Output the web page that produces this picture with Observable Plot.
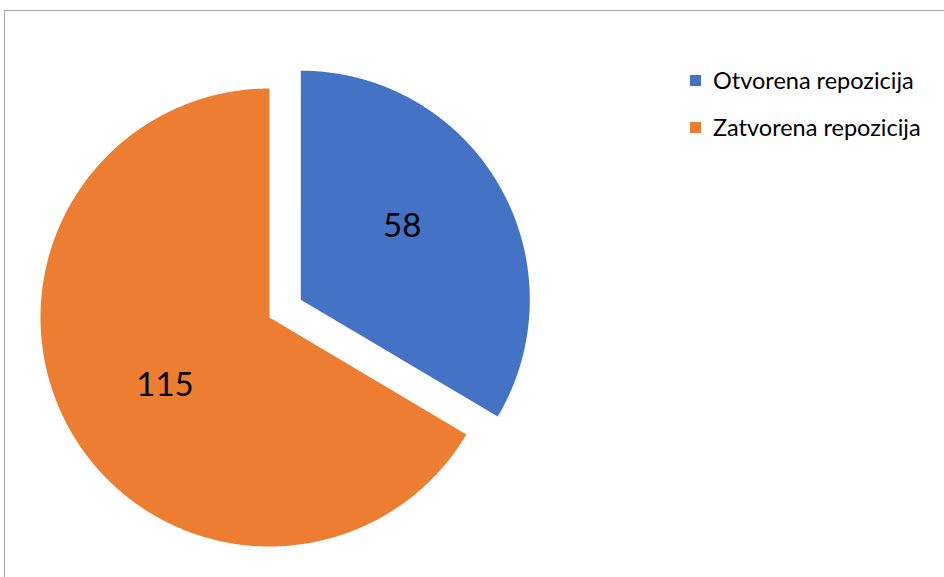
<!DOCTYPE html>
<html>
<head>
<meta charset="utf-8">
<script src="https://cdn.jsdelivr.net/npm/d3@7"></script>
<script src="https://cdn.jsdelivr.net/npm/@observablehq/plot@0.6"></script>
<style>
  html, body { margin: 0; padding: 0; background: #fff; overflow: hidden; }
  #wrap { position: relative; width: 944px; height: 577px; }
  #frame { position: absolute; left: 4px; top: 10px; width: 960px; height: 600px; border: 1px solid #a6a6a6; box-sizing: border-box; }
  #chart { position: absolute; left: 0; top: 0; }
  #legend { position: absolute; left: 690px; top: 66px; font-family: Lato, "Open Sans", sans-serif; font-size: 23.5px; color: #000; }
  .item { display: flex; align-items: center; height: 28px; margin-bottom: 19px; }
  .sw { width: 11px; height: 11px; margin-right: 12px; }
</style>
</head>
<body>
<div id="wrap">
  <div id="frame"></div>
  <div id="chart"></div>
  <div id="legend"></div>
</div>
<script>
// ---- data ----
const categories = ["Otvorena repozicija", "Zatvorena repozicija"];
const values = [58, 115];
const colors = ["#4472C4", "#ED7D31"];

// ---- layout ----
const W = 944, H = 577;
const cx = 269, cy = 317, R = 229;   // pie centre / radius in pixels
const explodePx = [36, 0];           // explosion of each slice
const labelRadius = 0.55;
const labelNudge = [[-8, -11], [5, 6]];

const pie = d3.pie().sort(null).value(d => d.value)(
  categories.map((c, i) => ({category: c, value: values[i], i}))
);

// polygon points in unit coordinates (radius 1, y pointing down)
const pts = [];
const labels = [];
for (const s of pie) {
  const i = s.data.i;
  const mid = (s.startAngle + s.endAngle) / 2;
  const e = explodePx[i] / R;
  const ox = Math.sin(mid) * e, oy = -Math.cos(mid) * e;
  pts.push({category: s.data.category, x: ox, y: oy});
  const n = Math.max(2, Math.ceil((s.endAngle - s.startAngle) / (Math.PI / 360)));
  for (let k = 0; k <= n; k++) {
    const a = s.startAngle + (s.endAngle - s.startAngle) * k / n;
    pts.push({category: s.data.category, x: ox + Math.sin(a), y: oy - Math.cos(a)});
  }
  labels.push({
    text: String(s.data.value),
    x: ox + Math.sin(mid) * labelRadius + labelNudge[i][0] / R,
    y: oy - Math.cos(mid) * labelRadius + labelNudge[i][1] / R
  });
}

const chart = Plot.plot({
  width: W, height: H,
  margin: 0,
  style: {background: "transparent", overflow: "visible"},
  x: {domain: [-cx / R, (W - cx) / R], range: [0, W], axis: null},
  y: {domain: [-cy / R, (H - cy) / R], range: [0, H], axis: null},
  color: {domain: categories, range: colors},
  marks: [
    Plot.line(pts, {x: "x", y: "y", z: "category", fill: "category", stroke: null, curve: "linear-closed"}),
    Plot.text(labels, {x: "x", y: "y", text: "text", fontSize: 33, fill: "#000",
      fontFamily: "Lato, 'Open Sans', sans-serif"})
  ]
});
document.getElementById("chart").appendChild(chart);

const leg = document.getElementById("legend");
categories.forEach((c, i) => {
  const it = document.createElement("div");
  it.className = "item";
  it.innerHTML = `<span class="sw" style="background:${colors[i]}"></span><span>${c}</span>`;
  leg.appendChild(it);
});
</script>
</body>
</html>
